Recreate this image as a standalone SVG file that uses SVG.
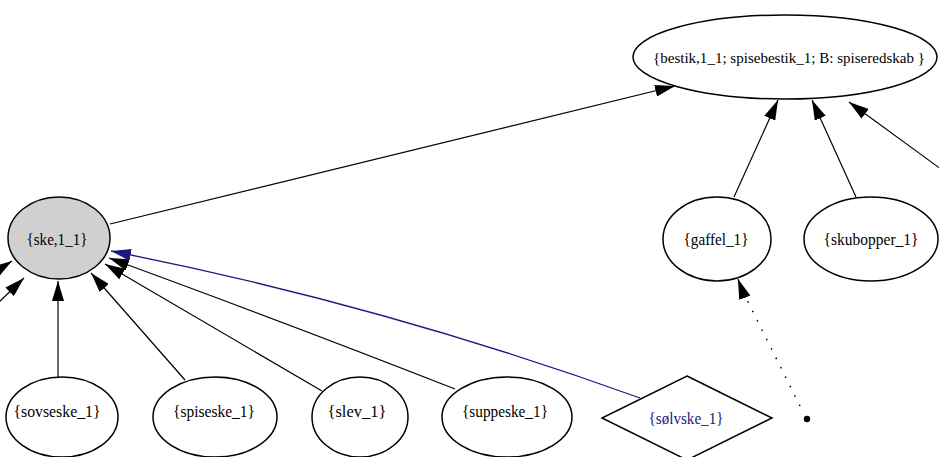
<svg xmlns="http://www.w3.org/2000/svg" width="939" height="457" viewBox="0 0 939 457">
<style>
.n{fill:#fff;stroke:#000;stroke-width:1.5}
.t{font-family:"Liberation Serif","Times New Roman",serif;font-size:17px;text-anchor:middle;fill:#000}
.e{fill:none;stroke:#000;stroke-width:1.2}
.b{fill:none;stroke:#1a1a80;stroke-width:1.3}
.d{fill:none;stroke:#000;stroke-width:1.5;stroke-dasharray:1.5 9}
</style>
<defs>
<marker id="ah" markerUnits="userSpaceOnUse" viewBox="0 0 20 12" markerWidth="20" markerHeight="12" refX="20" refY="6" orient="auto"><path d="M0,0 L20,6 L0,12 z" fill="#000"/></marker>
<marker id="ahb" markerUnits="userSpaceOnUse" viewBox="0 0 20 12" markerWidth="20" markerHeight="12" refX="20" refY="6" orient="auto"><path d="M0,0 L20,6 L0,12 z" fill="#1a1a80"/></marker>
</defs>
<rect width="939" height="457" fill="#fff"/>
<g id="edges">
<path class="e" d="M110,224 L675,86" marker-end="url(#ah)"/>
<path class="e" d="M734,197 L778,100" marker-end="url(#ah)"/>
<path class="e" d="M856,197 L812,100" marker-end="url(#ah)"/>
<path class="e" d="M945,172 L849,102" marker-end="url(#ah)"/>
<path class="d" d="M800,406 L742,290"/>
<path class="e" d="M742,290 L738,279" marker-end="url(#ah)"/>
<path class="e" d="M58,377 L58,281" marker-end="url(#ah)"/>
<path class="e" stroke-width="1" d="M185,380 L91,273" marker-end="url(#ah)"/>
<path class="e" d="M322,391 L105,264" marker-end="url(#ah)"/>
<path class="e" d="M455,389 Q300,328 109,258" marker-end="url(#ah)"/>
<path class="b" d="M640,398 Q380,304 111,251" marker-end="url(#ahb)"/>
<path class="e" d="M-30,330 L24,278" marker-end="url(#ah)"/>
<path class="e" d="M-25,285 L12,261" marker-end="url(#ah)"/>
</g>
<g id="bestik"><ellipse class="n" cx="785" cy="57" rx="152" ry="42"/><text class="t" x="789" y="63" style="font-size:15px" textLength="272" lengthAdjust="spacingAndGlyphs">{bestik,1_1; spisebestik_1; B: spiseredskab }</text></g>
<g id="ske"><ellipse class="n" style="fill:#d0d0d0" cx="59" cy="238" rx="51" ry="41"/><text class="t" x="57" y="245" textLength="61" lengthAdjust="spacingAndGlyphs">{ske,1_1}</text></g>
<g id="gaffel"><ellipse class="n" cx="717" cy="239" rx="54" ry="42"/><text class="t" x="716" y="245" textLength="65" lengthAdjust="spacingAndGlyphs">{gaffel_1}</text></g>
<g id="skubopper"><ellipse class="n" cx="871" cy="239" rx="67" ry="42"/><text class="t" x="871" y="245" textLength="95" lengthAdjust="spacingAndGlyphs">{skubopper_1}</text></g>
<g id="sovseske"><ellipse class="n" cx="62" cy="417" rx="56" ry="40"/><text class="t" x="57" y="417" textLength="87" lengthAdjust="spacingAndGlyphs">{sovseske_1}</text></g>
<g id="spiseske"><ellipse class="n" cx="215" cy="417" rx="62" ry="40"/><text class="t" x="214" y="417" textLength="82" lengthAdjust="spacingAndGlyphs">{spiseske_1}</text></g>
<g id="slev"><ellipse class="n" cx="360" cy="417" rx="48" ry="40"/><text class="t" x="357" y="417" textLength="59" lengthAdjust="spacingAndGlyphs">{slev_1}</text></g>
<g id="suppeske"><ellipse class="n" cx="507" cy="417" rx="65" ry="40"/><text class="t" x="505" y="417" textLength="86" lengthAdjust="spacingAndGlyphs">{suppeske_1}</text></g>
<g id="solvske"><polygon class="n" points="687,376 772,418 687,460 602,418"/><text class="t" x="686" y="424" textLength="75" lengthAdjust="spacingAndGlyphs" style="fill:#1a1a80">{sølvske_1}</text></g>
<g id="point"><circle cx="807" cy="419" r="3.2" fill="#000"/></g>
</svg>
